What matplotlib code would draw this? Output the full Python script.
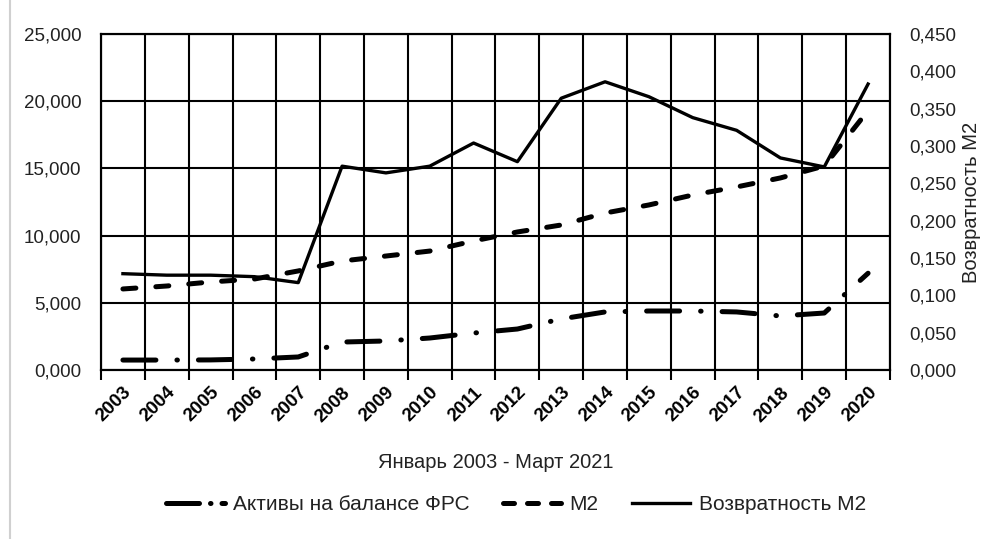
import matplotlib
matplotlib.use("Agg")
import matplotlib.pyplot as plt
from matplotlib.ticker import FixedLocator, FuncFormatter, NullFormatter
from matplotlib.lines import Line2D

plt.rcParams['font.family'] = ['Liberation Sans', 'DejaVu Sans']

years = ['2003', '2004', '2005', '2006', '2007', '2008', '2009', '2010', '2011',
         '2012', '2013', '2014', '2015', '2016', '2017', '2018', '2019', '2020']
# trillions (left axis)
assets = [0.74, 0.74, 0.75, 0.82, 0.97, 2.08, 2.16, 2.38, 2.75, 3.05,
          3.80, 4.32, 4.39, 4.39, 4.32, 4.02, 4.24, 7.20]
m2 = [6.03, 6.25, 6.55, 6.77, 7.37, 8.11, 8.48, 8.85, 9.60, 10.27,
      10.79, 11.68, 12.28, 13.02, 13.62, 14.29, 15.18, 19.30]
# right axis
velocity = [0.129, 0.127, 0.127, 0.125, 0.117, 0.273, 0.264, 0.273, 0.304, 0.279,
            0.364, 0.386, 0.366, 0.338, 0.321, 0.284, 0.272, 0.383]

fig = plt.figure(figsize=(9.86, 5.39), dpi=100)
ax = fig.add_axes([101/986, 1-370/539, (890-101)/986, (370-34)/539])
ax2 = ax.twinx()

x = [i + 0.5 for i in range(len(years))]

lw_thick = 3.6
la, = ax.plot(x, assets, color='black', lw=lw_thick, dashes=(6.6, 4.2, 0.1, 4.2),
              dash_capstyle='round', solid_capstyle='round', zorder=5)
lm, = ax.plot(x, m2, color='black', lw=lw_thick, dashes=(2.6, 4.0),
              dash_capstyle='round', zorder=5)
lv, = ax2.plot(x, velocity, color='black', lw=2.4, solid_joinstyle='round', zorder=5)

ax.set_xlim(0, len(years))
ax.set_ylim(0, 25)
ax2.set_ylim(0, 0.45)

ax.xaxis.set_major_locator(FixedLocator(range(len(years) + 1)))
ax.xaxis.set_major_formatter(NullFormatter())
ax.xaxis.set_minor_locator(FixedLocator(x))
ax.set_xticklabels(years, minor=True, rotation=45, ha='right', rotation_mode='anchor',
                   fontsize=13.5, fontweight='bold')
ax.tick_params(axis='x', which='major', length=7, width=1.5, direction='out', color='black')
ax.tick_params(axis='x', which='minor', length=0, pad=10)

ax.set_yticks([0, 5, 10, 15, 20, 25])
ax.yaxis.set_major_formatter(FuncFormatter(lambda v, p: f"{v:.3f}".replace('.', ',')))
ax.tick_params(axis='y', length=0, pad=14, labelsize=13.5, colors='#222222')

ax2.set_yticks([i * 0.05 for i in range(10)])
ax2.yaxis.set_major_formatter(FuncFormatter(lambda v, p: f"{v:.3f}".replace('.', ',')))
ax2.tick_params(axis='y', length=0, pad=14, labelsize=13.5, colors='#222222')
ax2.set_ylabel('Возвратность М2', fontsize=14.5, color='#222222', labelpad=4)

ax.grid(True, which='major', color='black', lw=1.5)
ax.set_axisbelow(True)
for a in (ax, ax2):
    for s in a.spines.values():
        s.set_color('black')
        s.set_linewidth(1.5)

ax.set_xlabel('Январь 2003 - Март 2021', fontsize=14.5, color='#222222', labelpad=20)

h_a = Line2D([], [], color='black', lw=lw_thick, dashes=(6.6, 2.2, 0.1, 2.2),
             dash_capstyle='round')
h_m = Line2D([], [], color='black', lw=lw_thick, dashes=(2.2, 2.6), dash_capstyle='round')
h_v = Line2D([], [], color='black', lw=2.4)
fig.legend([h_a, h_m, h_v], ['Активы на балансе ФРС', 'М2', 'Возвратность М2'],
           loc='center', bbox_to_anchor=(516/986, 1-505/539), ncol=3, frameon=False,
           fontsize=15, handlelength=2.8, handletextpad=0.4, columnspacing=1.6,
           labelcolor='#222222')

fig.add_artist(Line2D([10/986, 10/986], [0, 1], color='#d0d0d0', lw=1.5,
                      transform=fig.transFigure))

fig.savefig('out.png', dpi=100)
